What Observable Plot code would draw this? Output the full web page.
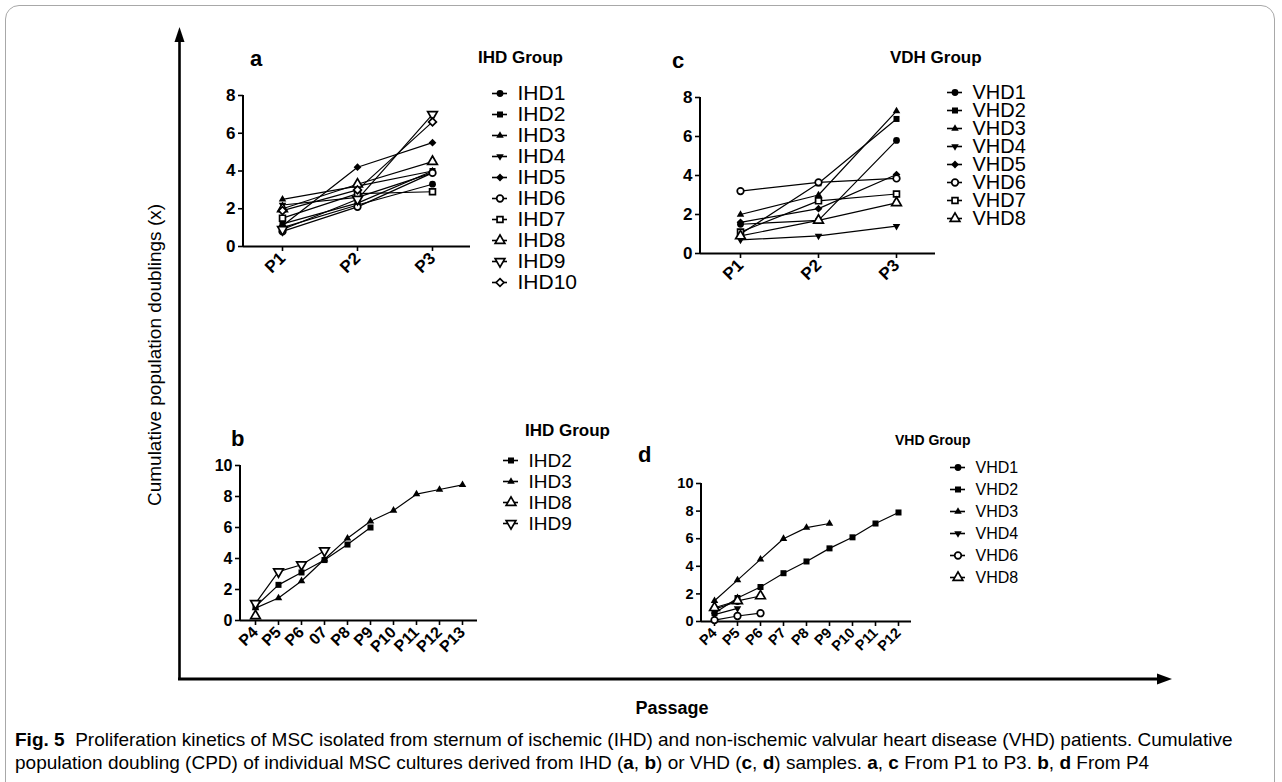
<!DOCTYPE html>
<html><head><meta charset="utf-8">
<script src="https://cdn.jsdelivr.net/npm/d3@7"></script>
<script src="https://cdn.jsdelivr.net/npm/@observablehq/plot@0.6"></script>
<style>
body{margin:0;background:#fff;}
#fig{position:relative;width:1282px;height:782px;overflow:hidden;background:#fff;font-family:"Liberation Sans",Arial,sans-serif;color:#000;}
.abs{position:absolute;white-space:nowrap;}
.plabel{font-weight:bold;font-size:22px;line-height:26px;}
.gtitle{font-weight:bold;font-size:17px;line-height:20px;}
#fig svg [aria-label$="tick"]{stroke-width:1.6;}
</style></head><body><div id="fig"></div>
<script>
// ---------- data ----------
const passagesEarly = ["P1", "P2", "P3"];
const ihdNamesA = ["IHD1","IHD2","IHD3","IHD4","IHD5","IHD6","IHD7","IHD8","IHD9","IHD10"];
const ihdCpdA = [
  [1.0, 2.2, 3.3],
  [1.2, 2.3, 4.0],
  [2.5, 3.2, 4.0],
  [2.2, 2.6, 3.9],
  [1.1, 4.2, 5.5],
  [0.8, 2.1, 3.9],
  [1.5, 2.8, 2.9],
  [2.0, 3.3, 4.5],
  [0.9, 2.5, 7.0],
  [1.9, 3.0, 6.6]
];
const vhdNamesC = ["VHD1","VHD2","VHD3","VHD4","VHD5","VHD6","VHD7","VHD8"];
const vhdCpdC = [
  [1.5, 1.7, 5.8],
  [1.0, 3.6, 6.9],
  [2.0, 3.0, 7.3],
  [0.7, 0.9, 1.4],
  [1.6, 2.3, 4.05],
  [3.2, 3.65, 3.85],
  [1.1, 2.7, 3.05],
  [0.9, 1.7, 2.6]
];
const passagesLateB = ["P4","P5","P6","07","P8","P9","P10","P11","P12","P13"];
const ihdNamesB = ["IHD2","IHD3","IHD8","IHD9"];
const ihdCpdB = [
  [0.9, 2.3, 3.1, 3.9, 4.9, 6.0],
  [0.8, 1.45, 2.55, 3.95, 5.3, 6.4, 7.1, 8.15, 8.45, 8.75],
  [0.3],
  [1.1, 3.15, 3.6, 4.5]
];
const passagesLateD = ["P4","P5","P6","P7","P8","P9","P10","P11","P12"];
const vhdNamesD = ["VHD1","VHD2","VHD3","VHD4","VHD6","VHD8"];
const vhdCpdD = [
  [0.9, 1.45],
  [0.6, 1.7, 2.5, 3.5, 4.35, 5.3, 6.1, 7.1, 7.9],
  [1.5, 3.0, 4.5, 6.0, 6.8, 7.1],
  [0.5, 0.95],
  [0.1, 0.4, 0.6],
  [1.0, 1.5, 1.85]
];
const yTicksEarly = [0, 2, 4, 6, 8];
const yTicksLate = [0, 2, 4, 6, 8, 10];

// ---------- styling helpers ----------
const triangleDown = {
  draw(context, size) {
    const s3 = Math.sqrt(3);
    const y = -Math.sqrt(size / (s3 * 3));
    context.moveTo(0, -y * 2);
    context.lineTo(-s3 * y, y);
    context.lineTo(s3 * y, y);
    context.closePath();
  }
};
const markerStyles = [
  {symbol: "circle", fill: "black", r: 3.4},
  {symbol: "square", fill: "black", r: 3.4},
  {symbol: "triangle", fill: "black", r: 2.8},
  {symbol: triangleDown, fill: "black", r: 2.8},
  {symbol: "diamond2", fill: "black", r: 3.5},
  {symbol: "circle", fill: "white", stroke: "black", strokeWidth: 1.7, r: 3.3},
  {symbol: "square", fill: "white", stroke: "black", strokeWidth: 1.7, r: 3.3},
  {symbol: "triangle", fill: "white", stroke: "black", strokeWidth: 1.7, r: 3.6},
  {symbol: triangleDown, fill: "white", stroke: "black", strokeWidth: 1.7, r: 3.6},
  {symbol: "diamond2", fill: "white", stroke: "black", strokeWidth: 1.7, r: 3.5}
];
function markerFor(name) {
  const k = parseInt(name.replace(/\D/g, ""), 10) - 1;
  return markerStyles[k];
}

const fig = document.getElementById("fig");
function place(el, left, top) {
  el.style.position = "absolute";
  el.style.left = left + "px";
  el.style.top = top + "px";
  fig.appendChild(el);
}
function addText(html, left, top, cls, extra) {
  const d = document.createElement("div");
  d.className = "abs " + (cls || "");
  d.innerHTML = html;
  if (extra) Object.assign(d.style, extra);
  place(d, left, top);
  return d;
}

const ML = 40, MR = 5, MT = 10, MB = 58;
function panelPlot(xDomain, names, values, yTicks, innerW, innerH, fontSize) {
  const rows = [];
  names.forEach((s, i) => values[i].forEach((v, j) => rows.push({series: s, passage: xDomain[j], value: v})));
  const W = ML + innerW + MR, H = MT + innerH + MB;
  const yAxisLine = () => {
    const l = document.createElementNS("http://www.w3.org/2000/svg", "line");
    l.setAttribute("x1", ML); l.setAttribute("x2", ML);
    l.setAttribute("y1", MT); l.setAttribute("y2", MT + innerH);
    l.setAttribute("stroke", "black"); l.setAttribute("stroke-width", 2);
    return l;
  };
  return Plot.plot({
    width: W, height: H,
    marginLeft: ML, marginRight: MR, marginTop: MT, marginBottom: MB,
    x: {type: "point", domain: xDomain, padding: 0.5, tickRotate: -45, tickSize: 5, tickPadding: 4, label: null},
    y: {domain: [0, yTicks[yTicks.length - 1]], ticks: yTicks, tickSize: 5, tickPadding: 3, label: null},
    style: {background: "none", overflow: "visible", fontFamily: "Liberation Sans, Arial, sans-serif",
            fontSize: fontSize + "px", fontWeight: "bold", color: "black"},
    marks: [
      Plot.ruleY([0], {stroke: "black", strokeWidth: 2}),
      yAxisLine,
      Plot.line(rows, {x: "passage", y: "value", z: "series", stroke: "black", strokeWidth: 1.2}),
      ...names.map(s => Plot.dot(rows.filter(r => r.series === s), {x: "passage", y: "value", ...markerFor(s)}))
    ]
  });
}

function legendPlot(names, spacing, fontSize) {
  const n = names.length;
  const H = 24 + (n - 1) * spacing;
  return Plot.plot({
    width: 130, height: H, margin: 0,
    x: {domain: [0, 1], range: [5, 20], axis: null},
    y: {type: "point", domain: names, range: [12, 12 + (n - 1) * spacing], padding: 0, axis: null},
    style: {background: "none", overflow: "visible", fontFamily: "Liberation Sans, Arial, sans-serif",
            fontSize: fontSize + "px", color: "black"},
    marks: [
      Plot.ruleY(names, {y: d => d, x1: 0, x2: 1, stroke: "black", strokeWidth: 1.6}),
      ...names.map(s => Plot.dot([s], {x: 0.5, y: d => d, ...markerFor(s)})),
      Plot.text(names, {x: 1, y: d => d, text: d => d, textAnchor: "start", dx: 10, fontSize: fontSize, fill: "black"})
    ]
  });
}

// ---------- frame & arrows ----------
const border = document.createElement("div");
Object.assign(border.style, {width: "1270px", height: "830px", border: "1px solid #a8a8a8", borderRadius: "14px", boxSizing: "border-box"});
place(border, 5, 5);

const NS = "http://www.w3.org/2000/svg";
const deco = document.createElementNS(NS, "svg");
deco.setAttribute("width", 1282); deco.setAttribute("height", 782);
deco.innerHTML = `
  <line x1="179.5" y1="680" x2="179.5" y2="38" stroke="black" stroke-width="2.6"/>
  <polygon points="179.5,27 174.5,42 184.5,42" fill="black"/>
  <line x1="178" y1="679" x2="1160" y2="679" stroke="black" stroke-width="3"/>
  <polygon points="1172,679 1157,673.5 1157,684.5" fill="black"/>`;
deco.style.pointerEvents = "none";
place(deco, 0, 0);

// ---------- panels ----------
place(panelPlot(passagesEarly, ihdNamesA, ihdCpdA, yTicksEarly, 227, 151, 17), 243 - ML, 95 - MT);
place(panelPlot(passagesEarly, vhdNamesC, vhdCpdC, yTicksEarly, 235, 156, 17), 700 - ML, 97 - MT);
place(panelPlot(passagesLateB, ihdNamesB, ihdCpdB, yTicksLate, 237, 155, 16), 240 - ML, 465 - MT);
place(panelPlot(passagesLateD, vhdNamesD, vhdCpdD, yTicksLate, 210, 138, 14.5), 701 - ML, 483 - MT);

// ---------- legends ----------
place(legendPlot(ihdNamesA, 21, 21), 487, 93 - 12);
place(legendPlot(vhdNamesC, 18.3, 20), 942, 91 - 12);
place(legendPlot(ihdNamesB, 21, 19), 498, 460 - 12);
place(legendPlot(vhdNamesD, 22, 16), 945, 467 - 12);

// ---------- labels ----------
addText("a", 250, 46, "plabel");
addText("c", 672, 48, "plabel");
addText("b", 231, 426, "plabel");
addText("d", 638, 442, "plabel");
addText("IHD Group", 478, 48, "gtitle");
addText("VDH Group", 890, 48, "gtitle");
addText("IHD Group", 525, 421, "gtitle");
addText("VHD Group", 895, 430, "gtitle", {fontSize: "14px"});

addText("Cumulative population doublings (x)", 155 - 200, 355 - 12, "", {
  width: "400px", textAlign: "center", fontSize: "19px", lineHeight: "24px", transform: "rotate(-90deg)"
});
addText("Passage", 672 - 60, 696, "", {width: "120px", textAlign: "center", fontSize: "18px", fontWeight: "bold", lineHeight: "24px"});
addText('<b>Fig. 5</b>&nbsp; Proliferation kinetics of MSC isolated from sternum of ischemic (IHD) and non-ischemic valvular heart disease (VHD) patients. Cumulative<br>population doubling (CPD) of individual MSC cultures derived from IHD (<b>a</b>, <b>b</b>) or VHD (<b>c</b>, <b>d</b>) samples. <b>a</b>, <b>c</b> From P1 to P3. <b>b</b>, <b>d</b> From P4',
  15, 728, "", {fontSize: "19px", lineHeight: "23px"});
</script>
</body></html>
